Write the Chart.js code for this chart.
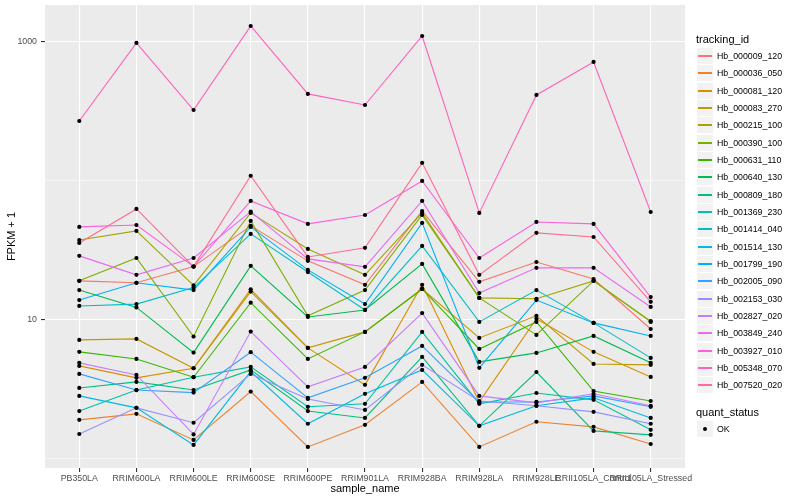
<!DOCTYPE html>
<html>
<head>
<meta charset="utf-8">
<script src="https://cdn.jsdelivr.net/npm/chart.js@4.4.0/dist/chart.umd.min.js"></script>
<style>
  body { margin: 0; background: #fff; font-family: "Liberation Sans", Arial, sans-serif; }
  #wrap { position: relative; width: 800px; height: 500px; }
  #legend { position: absolute; left: 0; top: 0; width: 800px; height: 500px; pointer-events: none; }
  .lg-title { position: absolute; left: 696px; font-size: 11px; color: #000; line-height: 12px; }
  .lg-item { position: absolute; left: 697px; height: 16px; display: flex; align-items: center; }
  .lg-key { width: 16px; height: 16px; background: #f2f2f2; position: relative; margin-right: 4px; }
  .lg-key i { position: absolute; left: 1px; right: 1px; top: 7px; height: 2px; }
  .lg-key b { position: absolute; left: 6px; top: 6px; width: 4px; height: 4px; border-radius: 2px; background: #000; }
  .lg-text { font-size: 8.8px; color: #000; }
</style>
</head>
<body>
<div id="wrap">
  <canvas id="fpkmChart" width="800" height="500"></canvas>
  <div id="legend"></div>
</div>
<script>
(function() {
    "use strict";

    // samples on the x axis
    var sampleNames = ['PB350LA', 'RRIM600LA', 'RRIM600LE', 'RRIM600SE', 'RRIM600PE', 'RRIM901LA',
                       'RRIM928BA', 'RRIM928LA', 'RRIM928LE', 'RRII105LA_Control', 'RRII105LA_Stressed'];

    var trackingIds = ['Hb_000009_120', 'Hb_000036_050', 'Hb_000081_120', 'Hb_000083_270', 'Hb_000215_100',
                       'Hb_000390_100', 'Hb_000631_110', 'Hb_000640_130', 'Hb_000809_180', 'Hb_001369_230',
                       'Hb_001414_040', 'Hb_001514_130', 'Hb_001799_190', 'Hb_002005_090', 'Hb_002153_030',
                       'Hb_002827_020', 'Hb_003849_240', 'Hb_003927_010', 'Hb_005348_070', 'Hb_007520_020'];

    // FPKM + 1, one array per gene, in sampleNames order
    var hb_000009_120 = [19.1, 18.5, 24.2, 47.5, 26.6, 17.9, 60.8, 18.8, 26.1, 19.7, 8.6];
    var hb_000036_050 = [1.91, 2.11, 1.37, 3.05, 1.22, 1.76, 3.58, 1.22, 1.85, 1.70, 1.28];
    var hb_000081_120 = [4.67, 3.83, 4.49, 16.6, 6.29, 3.41, 17.9, 2.57, 10.2, 5.89, 3.89];
    var hb_000083_270 = [7.18, 7.30, 4.49, 16.0, 6.29, 8.2, 16.7, 7.42, 10.7, 4.82, 4.75];
    var hb_000215_100 = [37.6, 43.7, 17.7, 58.9, 32.4, 21.1, 58.9, 14.4, 14.2, 19.1, 9.8];
    var hb_000390_100 = [19.1, 27.9, 7.59, 51.6, 10.7, 16.4, 56.9, 14.4, 7.80, 19.1, 9.68];
    var hb_000631_110 = [5.89, 5.24, 3.87, 13.3, 5.24, 8.2, 16.7, 6.18, 9.68, 3.08, 2.61];
    var hb_000640_130 = [16.4, 12.3, 5.82, 24.5, 10.5, 11.8, 25.3, 4.99, 5.79, 7.67, 4.91];
    var hb_000809_180 = [3.24, 3.58, 3.13, 4.37, 2.21, 1.97, 5.42, 1.73, 4.22, 1.59, 1.49];
    var hb_001369_230 = [2.21, 3.13, 3.87, 4.59, 2.37, 2.49, 8.2, 2.49, 2.98, 2.66, 1.62];
    var hb_001414_040 = [12.6, 13.0, 17.1, 41.6, 22.1, 11.8, 34.1, 9.68, 16.4, 9.52, 5.33];
    var hb_001514_130 = [2.84, 2.33, 1.26, 4.25, 1.79, 2.94, 4.37, 1.73, 2.41, 2.75, 1.97];
    var hb_001799_190 = [13.9, 18.5, 16.4, 46.7, 22.9, 13.0, 49.9, 4.52, 13.9, 9.52, 7.67];
    var hb_002005_090 = [4.09, 3.13, 3.00, 5.86, 2.75, 3.83, 6.50, 2.57, 2.57, 2.84, 2.37];
    var hb_002153_030 = [1.51, 2.33, 1.82, 4.09, 2.70, 2.25, 4.75, 2.61, 2.41, 2.18, 1.79];
    var hb_002827_020 = [4.91, 4.02, 1.50, 8.24, 3.30, 4.59, 11.2, 2.84, 2.53, 2.94, 2.41];
    var hb_003849_240 = [28.9, 21.1, 27.9, 60.1, 27.5, 24.1, 71.8, 15.6, 23.7, 23.7, 12.4];
    var hb_003927_010 = [46.7, 48.2, 24.2, 71.8, 49.1, 56.9, 100, 27.9, 50.7, 49.1, 14.6];
    var hb_005348_070 = [270, 984, 324, 1303, 423, 352, 1104, 58.9, 416, 718, 59.8];
    var hb_007520_020 = [35.8, 62.9, 24.2, 109, 28.4, 33.0, 135, 21.1, 42.3, 39.5, 13.5];

    var fpkm = [hb_000009_120, hb_000036_050, hb_000081_120, hb_000083_270, hb_000215_100,
                hb_000390_100, hb_000631_110, hb_000640_130, hb_000809_180, hb_001369_230,
                hb_001414_040, hb_001514_130, hb_001799_190, hb_002005_090, hb_002153_030,
                hb_002827_020, hb_003849_240, hb_003927_010, hb_005348_070, hb_007520_020];

    // y axis: grid at every decade, labels only on some
    var yGridValues = [1, 10, 100, 1000];
    var yTickLabels = [10, 1000];

    // ggplot hue palette, 20 levels
    var colors = ['#F8766D', '#EA8331', '#D89000', '#C09B00', '#A3A500', '#7CAE00', '#39B600', '#00BB4E',
                  '#00BF7D', '#00C1A3', '#00BFC4', '#00BAE0', '#00B0F6', '#35A2FF', '#9590FF', '#C77CFF',
                  '#E76BF3', '#FA62DB', '#FF62BC', '#FF6C91'];

    Chart.defaults.font.family = '"Liberation Sans", Arial, sans-serif';

    var datasets = [];
    var allPoints = [];
    fpkm.forEach(function(vals, s) {
        var pts = vals.map(function(v, i) { return { x: i, y: v }; });
        allPoints = allPoints.concat(pts);
        datasets.push({
            label: trackingIds[s],
            data: pts,
            borderColor: colors[s],
            borderWidth: 1.1,
            pointRadius: 0,
            fill: false,
            tension: 0,
            order: fpkm.length - s
        });
    });
    // points on top of every line
    datasets.push({
        type: 'scatter',
        label: 'OK',
        data: allPoints,
        backgroundColor: '#000',
        borderWidth: 0,
        pointRadius: 2.1,
        order: -1
    });

    var panelBg = {
        id: 'panelBg',
        beforeDraw: function(chart) {
            var a = chart.chartArea, c = chart.ctx;
            c.save();
            c.fillStyle = '#EBEBEB';
            c.fillRect(a.left, a.top, a.right - a.left, a.bottom - a.top);
            c.restore();
        }
    };

    new Chart(document.getElementById('fpkmChart'), {
        type: 'line',
        data: { datasets: datasets },
        plugins: [panelBg],
        options: {
            responsive: false,
            animation: false,
            layout: { padding: { top: 5, right: 115, left: 0, bottom: 0 } },
            plugins: { legend: { display: false }, tooltip: { enabled: false } },
            scales: {
                x: {
                    type: 'linear',
                    min: -0.6,
                    max: 10.6,
                    afterBuildTicks: function(axis) {
                        axis.ticks = sampleNames.map(function(n, i) { return { value: i }; });
                    },
                    afterFit: function(scale) {
                        scale.height = 32;
                        scale.paddingLeft = 0;
                        scale.paddingRight = 0;
                    },
                    ticks: {
                        autoSkip: false, maxRotation: 0, minRotation: 0,
                        color: '#4D4D4D', font: { size: 8.8 }, padding: 1,
                        callback: function(v) { return sampleNames[v]; }
                    },
                    grid: { color: '#FFFFFF', lineWidth: 1.1, tickLength: 4, tickColor: '#333333' },
                    border: { display: false },
                    title: { display: true, text: 'sample_name', color: '#000', font: { size: 11 }, padding: { top: 2, bottom: 4 } }
                },
                y: {
                    type: 'logarithmic',
                    min: 0.86,
                    max: 1845,
                    afterBuildTicks: function(axis) {
                        axis.ticks = yGridValues.map(function(v) { return { value: v }; });
                    },
                    afterFit: function(scale) {
                        scale.width = 45;
                        scale.paddingTop = 0;
                        scale.paddingBottom = 0;
                    },
                    ticks: {
                        color: '#4D4D4D', font: { size: 8.8 }, padding: 4,
                        callback: function(v) { return yTickLabels.indexOf(v) >= 0 ? String(v) : ''; }
                    },
                    grid: {
                        color: '#FFFFFF',
                        lineWidth: function(ctx) { return yTickLabels.indexOf(ctx.tick.value) >= 0 ? 1.1 : 0.55; },
                        tickLength: 4,
                        tickColor: function(ctx) { return yTickLabels.indexOf(ctx.tick.value) >= 0 ? '#333333' : 'rgba(0,0,0,0)'; }
                    },
                    border: { display: false },
                    title: { display: true, text: 'FPKM + 1', color: '#000', font: { size: 11 }, padding: { top: 5, bottom: 2 } }
                }
            }
        }
    });

    // legend, ggplot style
    var lg = document.getElementById('legend');
    var html = '<div class="lg-title" style="top:33px">tracking_id</div>';
    trackingIds.forEach(function(id, s) {
        html += '<div class="lg-item" style="top:' + Math.round(48 + s * 17.33) + 'px">' +
                '<span class="lg-key"><i style="background:' + colors[s] + '"></i></span>' +
                '<span class="lg-text">' + id + '</span></div>';
    });
    html += '<div class="lg-title" style="top:406px">quant_status</div>';
    html += '<div class="lg-item" style="top:421px"><span class="lg-key"><b></b></span><span class="lg-text">OK</span></div>';
    lg.innerHTML = html;
})();
</script>
</body>
</html>
